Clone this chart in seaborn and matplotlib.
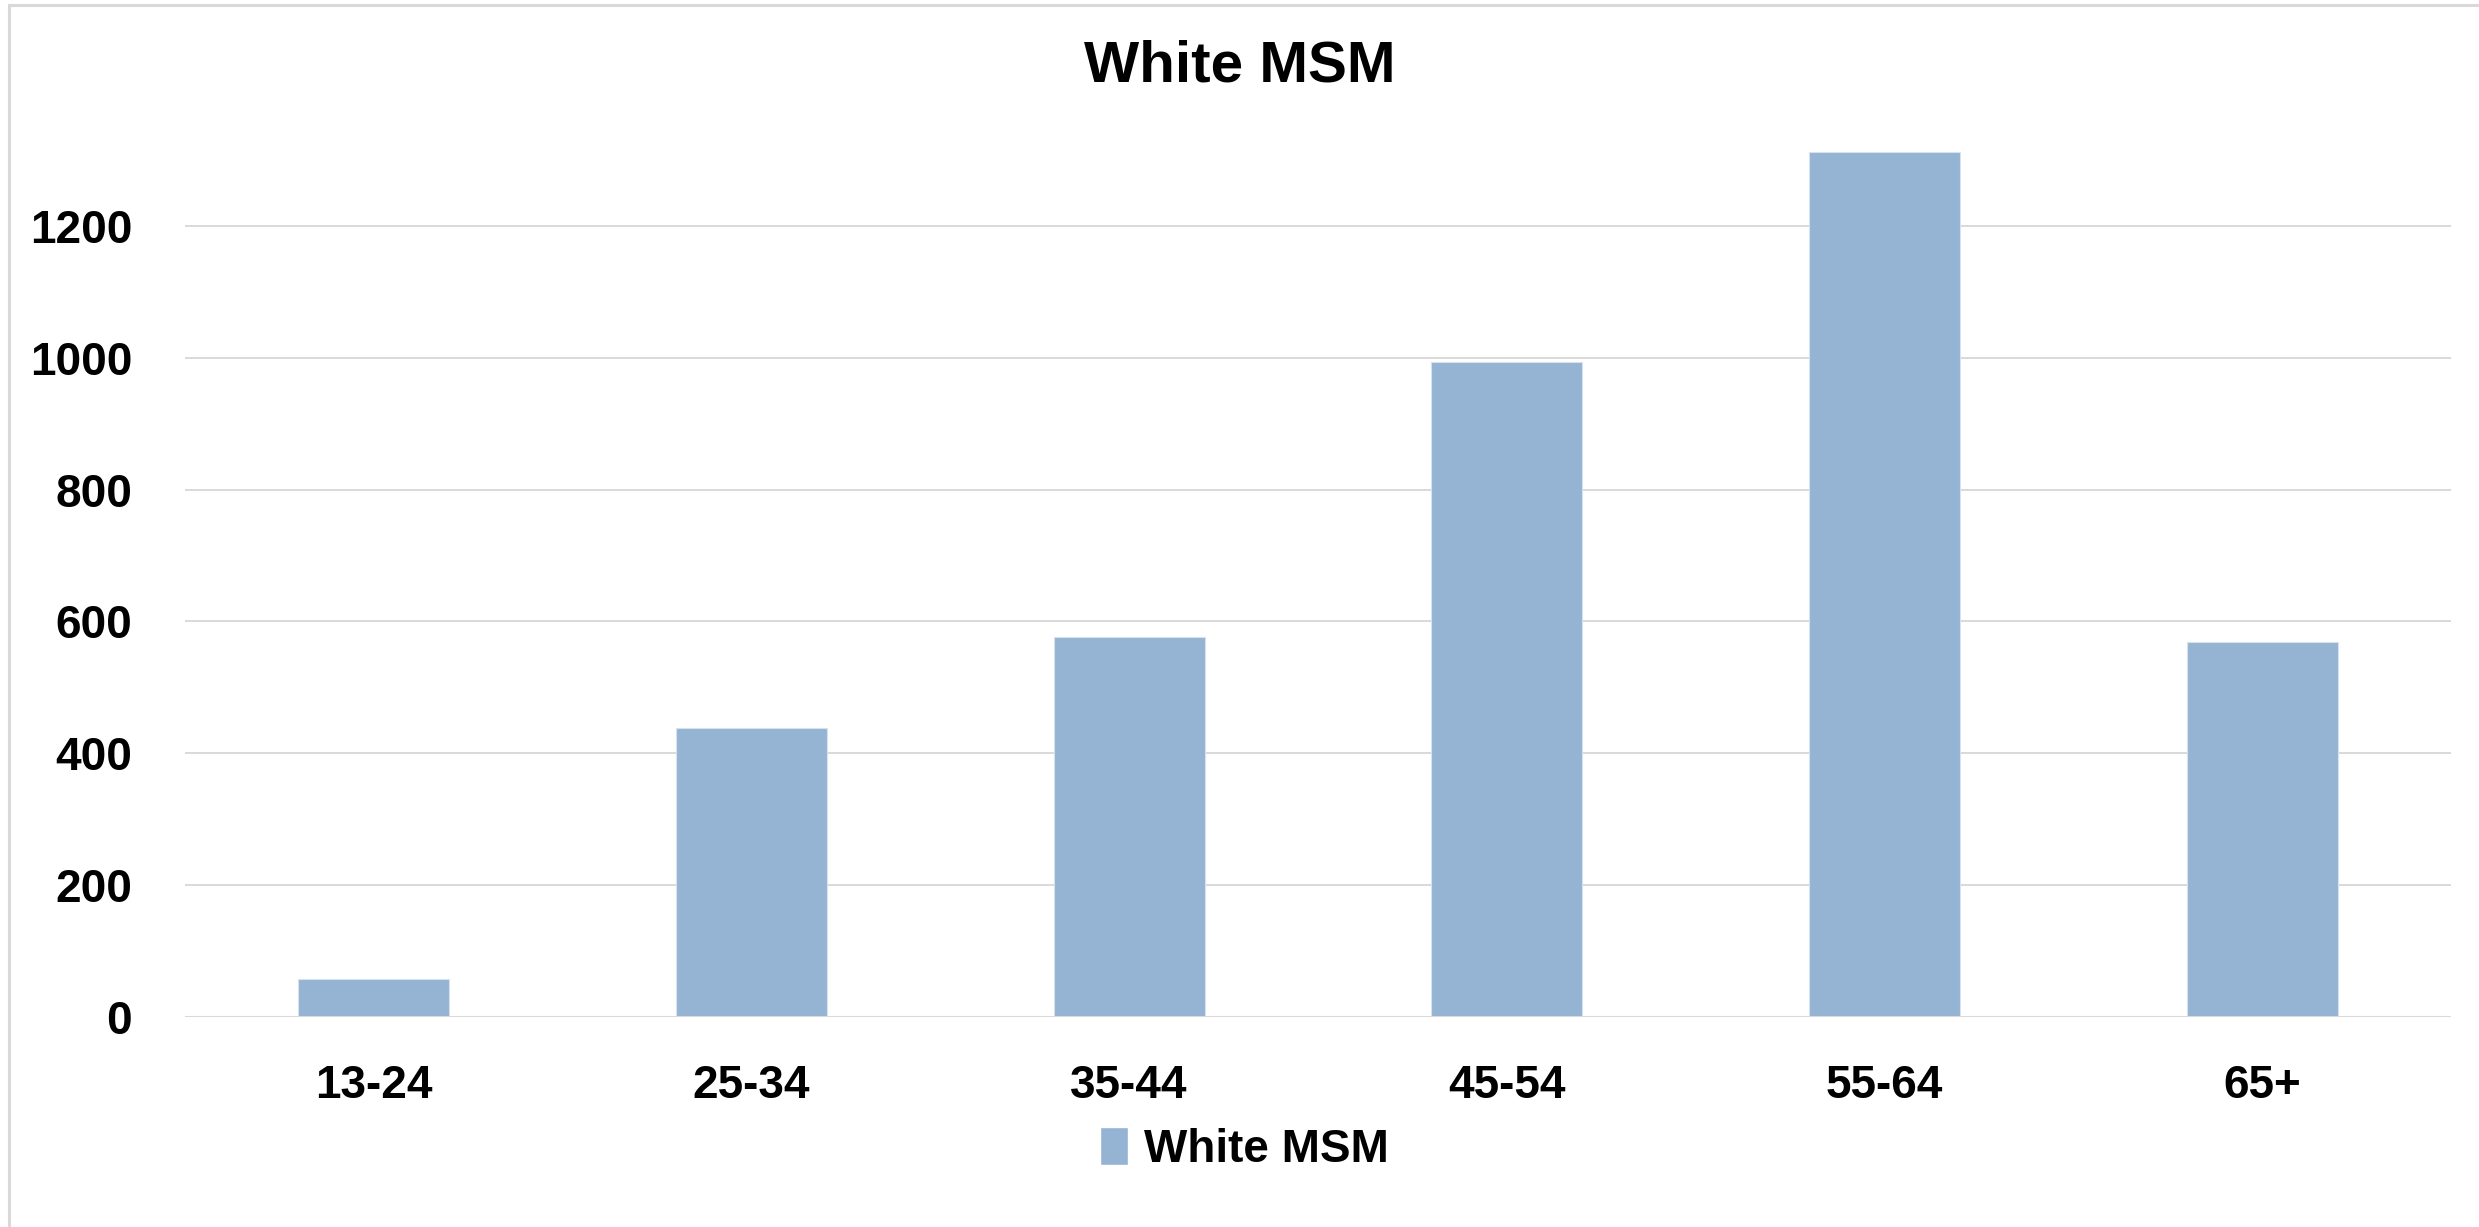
import seaborn as sns
import matplotlib.pyplot as plt
from matplotlib.patches import Patch, Rectangle
import pandas as pd

# values
age_groups = ["13-24", "25-34", "35-44", "45-54", "55-64", "65+"]
cases = [57, 438, 577, 994, 1312, 569]
series_name = "White MSM"
y_ticks = [0, 200, 400, 600, 800, 1000, 1200]

bar_color = "#95B3D2"
grid_color = "#D9D9D9"

sns.set_theme(style="white")
plt.rcParams["font.family"] = ["Liberation Sans", "DejaVu Sans"]
plt.rcParams["text.color"] = "black"
plt.rcParams["xtick.color"] = "black"
plt.rcParams["ytick.color"] = "black"

df = pd.DataFrame({"Age": age_groups, "Cases": cases})

fig = plt.figure(figsize=(24.79, 12.27), dpi=100)
ax = fig.add_axes([0.0746, 0.1714, 0.9141, 0.7516])

sns.barplot(data=df, x="Age", y="Cases", color=bar_color, saturation=1,
            width=0.4, ax=ax, edgecolor="#D6E2EE", linewidth=0.8)

ax.set_ylim(0, 1400)
ax.set_xlim(-0.5, len(age_groups) - 0.5)
ax.set_yticks(y_ticks)
ax.set_yticklabels([str(t) for t in y_ticks], fontsize=33, fontweight="bold")
ax.tick_params(axis="x", labelsize=33, pad=34, length=0, labelcolor="black")
ax.tick_params(axis="y", pad=38, length=0, labelcolor="black")
for lbl in ax.get_xticklabels():
    lbl.set_fontweight("bold")

for t in y_ticks[1:]:
    ax.axhline(t, color=grid_color, lw=1.4, zorder=0)
ax.axhline(0, color=grid_color, lw=2.2, zorder=3)

ax.set_xlabel("")
ax.set_ylabel("")
sns.despine(ax=ax, left=True, bottom=True, top=True, right=True)

fig.text(0.5, 0.946, series_name, ha="center", va="center",
         fontsize=42, fontweight="bold", color="black")

fig.legend(handles=[Patch(facecolor=bar_color, label=series_name)],
           loc="center", bbox_to_anchor=(0.502, 0.063), frameon=False,
           prop={"size": 33, "weight": "bold"}, handlelength=0.62,
           handleheight=0.9, handletextpad=0.35, labelcolor="black")

# chart area border (only top and left edges fall inside the image)
fig.patches.append(Rectangle((0.0035, -0.1), 1.2, 1.0963, transform=fig.transFigure,
                             fill=False, edgecolor=grid_color, lw=2.2))

fig.savefig("out.png", dpi=100)
